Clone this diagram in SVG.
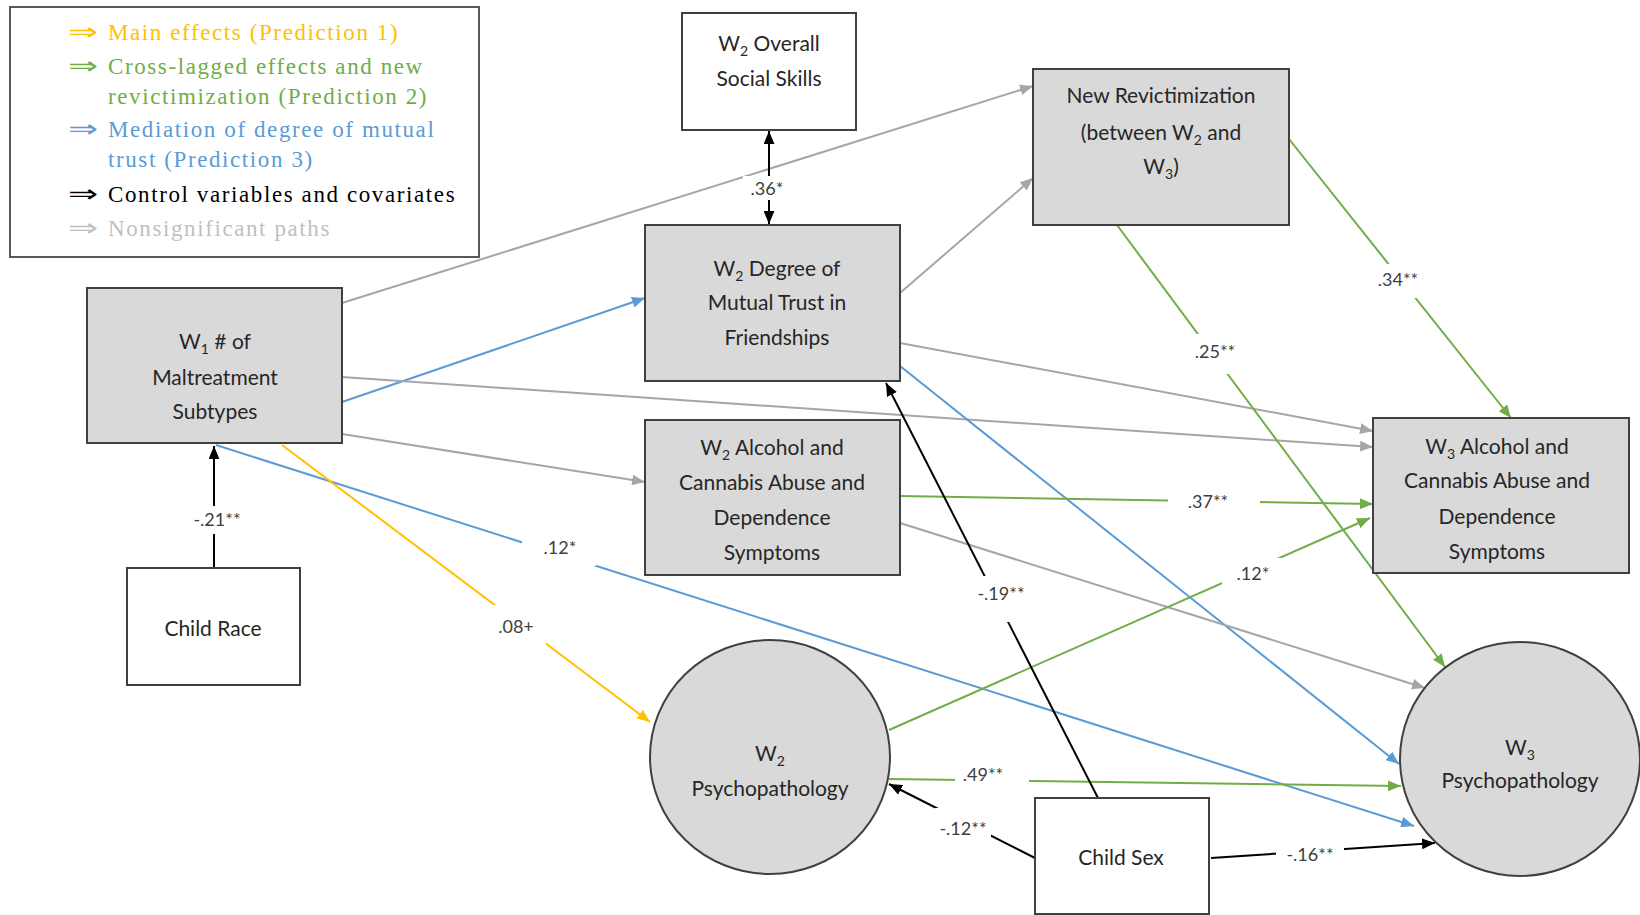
<svg xmlns="http://www.w3.org/2000/svg" width="1640" height="915" viewBox="0 0 1640 915">
<defs>
<style>
.box{fill:#D9D9D9;stroke:#404040;stroke-width:2}
.wbox{fill:#FFFFFF;stroke:#404040;stroke-width:2}
.nt{font-family:Lato,"Open Sans","Liberation Sans",sans-serif;font-size:21px;fill:#262626;text-anchor:middle}
.lt{font-family:"Liberation Serif",serif;font-size:23px;letter-spacing:1.6px}
.ar{font-family:"Liberation Serif",serif;font-size:24px}
.lb{font-family:Lato,"Open Sans","Liberation Sans",sans-serif;font-size:18px;fill:#404040;text-anchor:middle}
.bg{fill:#FFFFFF}
.c{fill:none;stroke-width:2}
.gr{stroke:#A6A6A6}
.gn{stroke:#70AD47}
.bl{stroke:#5B9BD5}
.or{stroke:#FFC000}
.bk{stroke:#000000}
</style>
<marker id="aG" viewBox="0 0 12 10" refX="12" refY="5" markerWidth="13" markerHeight="11" markerUnits="userSpaceOnUse" orient="auto"><path d="M0,0 L12,5 L0,10 z" fill="#A6A6A6"/></marker>
<marker id="aN" viewBox="0 0 12 10" refX="12" refY="5" markerWidth="13" markerHeight="11" markerUnits="userSpaceOnUse" orient="auto"><path d="M0,0 L12,5 L0,10 z" fill="#70AD47"/></marker>
<marker id="aB" viewBox="0 0 12 10" refX="12" refY="5" markerWidth="13" markerHeight="11" markerUnits="userSpaceOnUse" orient="auto"><path d="M0,0 L12,5 L0,10 z" fill="#5B9BD5"/></marker>
<marker id="aO" viewBox="0 0 12 10" refX="12" refY="5" markerWidth="13" markerHeight="11" markerUnits="userSpaceOnUse" orient="auto"><path d="M0,0 L12,5 L0,10 z" fill="#FFC000"/></marker>
<marker id="aK" viewBox="0 0 12 10" refX="12" refY="5" markerWidth="13" markerHeight="11" markerUnits="userSpaceOnUse" orient="auto-start-reverse"><path d="M0,0 L12,5 L0,10 z" fill="#000000"/></marker>
</defs>
<rect width="1640" height="915" fill="#FFFFFF"/>

<g id="legend">
<rect x="10" y="7" width="469" height="250" fill="#FFFFFF" stroke="#595959" stroke-width="2"/>
<g class="ar">
<text transform="translate(68,40) scale(1.5,1)" fill="#FFC000">⇒</text>
<text transform="translate(68,74) scale(1.5,1)" fill="#70AD47">⇒</text>
<text transform="translate(68,137) scale(1.5,1)" fill="#5B9BD5">⇒</text>
<text transform="translate(68,202) scale(1.5,1)" fill="#000000">⇒</text>
<text transform="translate(68,236) scale(1.5,1)" fill="#BFBFBF">⇒</text>
</g>
<g class="lt">
<text x="108" y="40" fill="#FFC000">Main effects (Prediction 1)</text>
<text x="108" y="74" fill="#70AD47">Cross-lagged effects and new</text>
<text x="108" y="104" fill="#70AD47">revictimization (Prediction 2)</text>
<text x="108" y="137" fill="#5B9BD5">Mediation of degree of mutual</text>
<text x="108" y="167" fill="#5B9BD5">trust (Prediction 3)</text>
<text x="108" y="202" fill="#000000">Control variables and covariates</text>
<text x="108" y="236" fill="#BFBFBF">Nonsignificant paths</text>
</g>
</g>

<g id="connectors">
<line class="c gr" x1="342" y1="303" x2="1033" y2="86" marker-end="url(#aG)"/>
<line class="c bl" x1="342" y1="402" x2="645" y2="298" marker-end="url(#aB)"/>
<line class="c gr" x1="342" y1="377" x2="1373" y2="447" marker-end="url(#aG)"/>
<line class="c gr" x1="342" y1="434" x2="645" y2="482" marker-end="url(#aG)"/>
<line class="c bl" x1="216" y1="445" x2="1414" y2="826" marker-end="url(#aB)"/>
<line class="c or" x1="282" y1="445" x2="650" y2="722" marker-end="url(#aO)"/>
<line class="c bk" x1="214" y1="568" x2="214" y2="446" marker-end="url(#aK)"/>
<line class="c bk" x1="769" y1="131" x2="769" y2="224" marker-start="url(#aK)" marker-end="url(#aK)"/>
<line class="c gr" x1="900" y1="293" x2="1033" y2="178" marker-end="url(#aG)"/>
<line class="c gr" x1="900" y1="343" x2="1373" y2="431" marker-end="url(#aG)"/>
<line class="c bl" x1="900" y1="366" x2="1399" y2="764" marker-end="url(#aB)"/>
<line class="c gn" x1="900" y1="496" x2="1373" y2="504" marker-end="url(#aN)"/>
<line class="c gr" x1="900" y1="523" x2="1425" y2="688" marker-end="url(#aG)"/>
<line class="c gn" x1="889" y1="730" x2="1370" y2="518" marker-end="url(#aN)"/>
<line class="c gn" x1="889" y1="779" x2="1401" y2="786" marker-end="url(#aN)"/>
<line class="c gn" x1="1117" y1="225" x2="1445" y2="667" marker-end="url(#aN)"/>
<line class="c gn" x1="1289" y1="139" x2="1511" y2="418" marker-end="url(#aN)"/>
<line class="c bk" x1="1098" y1="798" x2="886" y2="383" marker-end="url(#aK)"/>
<line class="c bk" x1="1035" y1="858" x2="889" y2="784" marker-end="url(#aK)"/>
<line class="c bk" x1="1211" y1="858" x2="1435" y2="843" marker-end="url(#aK)"/>

<rect class="bg" x="190" y="506" width="56" height="28"/><text class="lb" x="217" y="526">-.21**</text>
<rect class="bg" x="743" y="176" width="50" height="24"/><text class="lb" x="767" y="195">.36*</text>
<rect class="bg" x="522" y="532" width="74" height="34"/><text class="lb" x="560" y="554">.12*</text>
<rect class="bg" x="486" y="605" width="60" height="44"/><text class="lb" x="516" y="633">.08+</text>
<rect class="bg" x="1168" y="488" width="92" height="28"/><text class="lb" x="1208" y="508">.37**</text>
<rect class="bg" x="1222" y="558" width="64" height="36"/><text class="lb" x="1253" y="580">.12*</text>
<rect class="bg" x="955" y="760" width="74" height="28"/><text class="lb" x="983" y="781">.49**</text>
<rect class="bg" x="1188" y="334" width="56" height="40"/><text class="lb" x="1215" y="358">.25**</text>
<rect class="bg" x="1372" y="264" width="54" height="34"/><text class="lb" x="1398" y="286">.34**</text>
<rect class="bg" x="972" y="576" width="58" height="46"/><text class="lb" x="1001" y="600">-.19**</text>
<rect class="bg" x="935" y="808" width="56" height="44"/><text class="lb" x="963" y="835">-.12**</text>
<rect class="bg" x="1276" y="840" width="68" height="28"/><text class="lb" x="1310" y="861">-.16**</text>
</g>

<g id="social-skills">
<rect class="wbox" x="682" y="13" width="174" height="117"/>
<text class="nt" x="769" y="51">W<tspan font-size="14" dy="5">2</tspan><tspan dy="-5"> Overall</tspan></text>
<text class="nt" x="769" y="86">Social Skills</text>
</g>

<g id="new-revictimization">
<rect class="box" x="1033" y="69" width="256" height="156"/>
<text class="nt" x="1161" y="103">New Revictimization</text>
<text class="nt" x="1161" y="140">(between W<tspan font-size="14" dy="5">2</tspan><tspan dy="-5"> and</tspan></text>
<text class="nt" x="1161" y="174">W<tspan font-size="14" dy="5">3</tspan><tspan dy="-5">)</tspan></text>
</g>

<g id="maltreatment">
<rect class="box" x="87" y="288" width="255" height="155"/>
<text class="nt" x="215" y="349">W<tspan font-size="14" dy="5">1</tspan><tspan dy="-5"> # of</tspan></text>
<text class="nt" x="215" y="385">Maltreatment</text>
<text class="nt" x="215" y="419">Subtypes</text>
</g>

<g id="mutual-trust">
<rect class="box" x="645" y="225" width="255" height="156"/>
<text class="nt" x="777" y="276">W<tspan font-size="14" dy="5">2</tspan><tspan dy="-5"> Degree of</tspan></text>
<text class="nt" x="777" y="310">Mutual Trust in</text>
<text class="nt" x="777" y="345">Friendships</text>
</g>

<g id="w2-alcohol">
<rect class="box" x="645" y="420" width="255" height="155"/>
<text class="nt" x="772" y="455">W<tspan font-size="14" dy="5">2</tspan><tspan dy="-5"> Alcohol and</tspan></text>
<text class="nt" x="772" y="490">Cannabis Abuse and</text>
<text class="nt" x="772" y="525">Dependence</text>
<text class="nt" x="772" y="560">Symptoms</text>
</g>

<g id="w3-alcohol">
<rect class="box" x="1373" y="418" width="256" height="155"/>
<text class="nt" x="1497" y="454">W<tspan font-size="14" dy="5">3</tspan><tspan dy="-5"> Alcohol and</tspan></text>
<text class="nt" x="1497" y="488">Cannabis Abuse and</text>
<text class="nt" x="1497" y="524">Dependence</text>
<text class="nt" x="1497" y="559">Symptoms</text>
</g>

<g id="child-race">
<rect class="wbox" x="127" y="568" width="173" height="117"/>
<text class="nt" x="213" y="636">Child Race</text>
</g>

<g id="w2-psych">
<ellipse class="box" cx="770" cy="757" rx="120" ry="117"/>
<text class="nt" x="770" y="761">W<tspan font-size="14" dy="5">2</tspan></text>
<text class="nt" x="770" y="796">Psychopathology</text>
</g>

<g id="w3-psych">
<ellipse class="box" cx="1520" cy="759" rx="120" ry="117"/>
<text class="nt" x="1520" y="755">W<tspan font-size="14" dy="5">3</tspan></text>
<text class="nt" x="1520" y="788">Psychopathology</text>
</g>

<g id="child-sex">
<rect class="wbox" x="1035" y="798" width="174" height="116"/>
<text class="nt" x="1121" y="865">Child Sex</text>
</g>
</svg>
